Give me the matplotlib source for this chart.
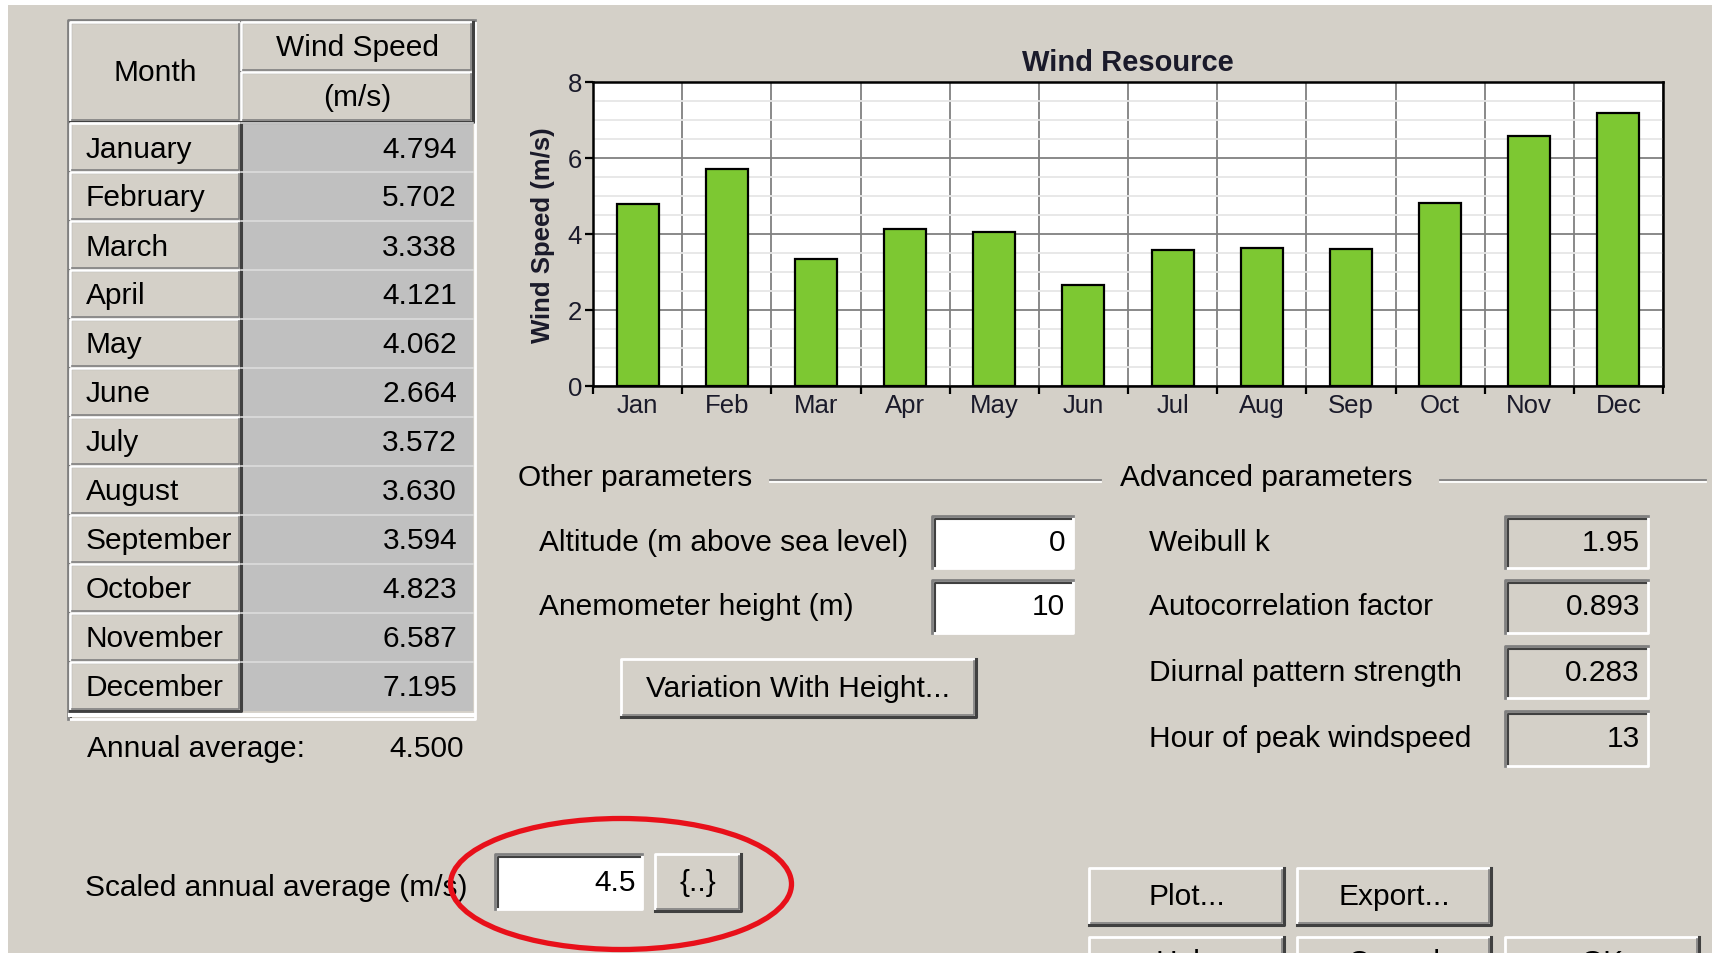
import matplotlib
matplotlib.use("Agg")
import matplotlib.pyplot as plt
from matplotlib.patches import Rectangle, Ellipse
import numpy as np

# data
months = ["January", "February", "March", "April", "May", "June",
          "July", "August", "September", "October", "November", "December"]
month_short = ["Jan", "Feb", "Mar", "Apr", "May", "Jun",
               "Jul", "Aug", "Sep", "Oct", "Nov", "Dec"]
wind_speed = [4.794, 5.702, 3.338, 4.121, 4.062, 2.664,
              3.572, 3.630, 3.594, 4.823, 6.587, 7.195]
annual_avg = 4.500
scaled_avg = "4.5"
other_labels = ["Altitude (m above sea level)", "Anemometer height (m)"]
other_values = ["0", "10"]
adv_labels = ["Weibull k", "Autocorrelation factor",
              "Diurnal pattern strength", "Hour of peak windspeed"]
adv_values = ["1.95", "0.893", "0.283", "13"]

W, H = 1713, 954
BG = "#d4d0c8"
FS = 21.5
plt.rcParams["font.family"] = ["Liberation Sans", "DejaVu Sans"]

fig = plt.figure(figsize=(W / 100, H / 100), dpi=100)
fig.patch.set_facecolor("white")
bg = fig.add_axes([0, 0, 1, 1])
bg.set_xlim(0, W)
bg.set_ylim(H, 0)
bg.axis("off")
bg.add_patch(Rectangle((8, 6), W - 9, H, fc=BG, ec="none"))


def raised(x0, y0, x1, y1, fc=BG):
    bg.add_patch(Rectangle((x0, y0), x1 - x0, y1 - y0, fc=fc, ec="none"))
    bg.plot([x0, x0, x1], [y1, y0, y0], color="white", lw=2)
    bg.plot([x0, x1, x1], [y1, y1, y0], color="#404040", lw=2.2)
    bg.plot([x0 + 2, x1 - 2, x1 - 2], [y1 - 2.5, y1 - 2.5, y0 + 2], color="#808080", lw=1.2)


def sunken(x0, y0, x1, y1, fc="white"):
    bg.add_patch(Rectangle((x0, y0), x1 - x0, y1 - y0, fc=fc, ec="none"))
    bg.plot([x0, x1, x1], [y1, y1, y0], color="white", lw=2)
    bg.plot([x0, x0, x1], [y1, y0, y0], color="#808080", lw=2)
    bg.plot([x0 + 2.5, x0 + 2.5, x1 - 2], [y1 - 2, y0 + 2.5, y0 + 2.5], color="#404040", lw=1.5)


# ---- month table
tx0, ty0, tx1, ty1 = 70, 23, 473, 720
col = 241
row_top, row_h = 124, 49
sunken(tx0 - 2, ty0 - 2, tx1 + 2, ty1, fc=BG)
raised(tx0, ty0, col, 123)
raised(col, ty0, tx1, 73)
raised(col, 73, tx1, 123)
bg.text((tx0 + col) / 2, 73, "Month", fontsize=FS, ha="center", va="center")
bg.text((col + tx1) / 2, 48, "Wind Speed", fontsize=FS, ha="center", va="center")
bg.text((col + tx1) / 2, 98, "(m/s)", fontsize=FS, ha="center", va="center")
for i, (m, v) in enumerate(zip(months, wind_speed)):
    top = row_top + i * row_h
    raised(tx0, top, col, top + row_h)
    bg.add_patch(Rectangle((col, top), tx1 - col, row_h, fc="#c0c0c0", ec="none"))
    bg.plot([col, tx1], [top, top], color="#dcdcdc", lw=1.2)
    bg.text(tx0 + 16, top + row_h / 2 + 1, m, fontsize=FS, ha="left", va="center")
    bg.text(tx1 - 16, top + row_h / 2 + 1, f"{v:.3f}", fontsize=FS, ha="right", va="center")
bg.plot([tx0, tx1], [row_top + 12 * row_h + 4, row_top + 12 * row_h + 4], color="white", lw=3)

bg.text(87, 749, "Annual average:", fontsize=FS, ha="left", va="center")
bg.text(464, 749, f"{annual_avg:.3f}", fontsize=FS, ha="right", va="center")

# ---- chart
ax = fig.add_axes([593 / W, 1 - 387 / H, (1663 - 593) / W, (387 - 83) / H])
ax.set_facecolor("white")
x = np.arange(len(month_short))
ax.bar(x, wind_speed, width=0.47, color="#7dc832", edgecolor="black", lw=1.6, zorder=3)
ax.set_xlim(-0.5, 11.5)
ax.set_ylim(0, 8)
ax.set_xticks(np.arange(-0.5, 12, 1))
ax.set_xticklabels([])
ax.set_xticks(x, minor=True)
ax.set_xticklabels(month_short, minor=True)
ax.set_yticks([0, 2, 4, 6, 8])
ax.set_yticks(np.arange(0, 8.01, 0.5), minor=True)
ax.tick_params(axis="x", which="major", length=6, width=1.6, direction="out")
ax.tick_params(axis="x", which="minor", length=0, pad=5, labelsize=18.5, labelcolor="#1a1a2a")
ax.tick_params(axis="y", which="major", length=6, width=1.6, pad=2, labelsize=18.5, labelcolor="#1a1a2a")
ax.tick_params(axis="y", which="minor", length=0)
ax.grid(axis="x", which="major", color="#808080", lw=1.3)
ax.grid(axis="y", which="major", color="#808080", lw=1.3)
ax.grid(axis="y", which="minor", color="#e6e6e6", lw=1.3)
ax.set_axisbelow(True)
for s in ax.spines.values():
    s.set_linewidth(1.8)
    s.set_color("black")

bg.text(1128, 63, "Wind Resource", fontsize=21, fontweight="bold", ha="center", va="center", color="#1a1a2a")
bg.text(543, 235, "Wind Speed (m/s)", fontsize=18.5, fontweight="bold", rotation=90,
        ha="center", va="center", color="#1a1a2a")

# ---- other parameters
bg.text(518, 478, "Other parameters", fontsize=FS, ha="left", va="center")
bg.plot([770, 1101], [481, 481], color="#808080", lw=1.3)
bg.plot([770, 1101], [483, 483], color="white", lw=1.3)
other_boxes = [(517, 569), (581, 634)]
for lab, val, (b0, b1) in zip(other_labels, other_values, other_boxes):
    bg.text(539, (b0 + b1) / 2, lab, fontsize=FS, ha="left", va="center")
    sunken(932, b0, 1073, b1, fc="white")
    bg.text(1065, (b0 + b1) / 2, val, fontsize=FS, ha="right", va="center")

raised(621, 660, 976, 718)
bg.text(798, 689, "Variation With Height...", fontsize=FS, ha="center", va="center")

# ---- advanced parameters
bg.text(1120, 478, "Advanced parameters", fontsize=FS, ha="left", va="center")
bg.plot([1440, 1706], [481, 481], color="#808080", lw=1.3)
bg.plot([1440, 1706], [483, 483], color="white", lw=1.3)
adv_boxes = [(517, 569), (581, 634), (647, 699), (712, 767)]
for lab, val, (b0, b1) in zip(adv_labels, adv_values, adv_boxes):
    bg.text(1149, (b0 + b1) / 2, lab, fontsize=FS, ha="left", va="center")
    sunken(1505, b0, 1648, b1, fc=BG)
    bg.text(1640, (b0 + b1) / 2, val, fontsize=FS, ha="right", va="center")

# ---- scaled annual average
bg.text(85, 888, "Scaled annual average (m/s)", fontsize=FS, ha="left", va="center")
sunken(495, 855, 642, 910, fc="white")
bg.text(636, 883, scaled_avg, fontsize=FS, ha="right", va="center")
raised(655, 855, 741, 912)
bg.text(698, 883, "{..}", fontsize=FS, ha="center", va="center")
bg.add_patch(Ellipse((621, 885), 341, 131, fill=False, ec="#e8101a", lw=3.8, zorder=10))

# ---- buttons (bottom row is cut off by the screenshot edge)
for (b0, b1), lab in zip([(1089, 1284), (1297, 1491)], ["Plot...", "Export..."]):
    raised(b0, 869, b1, 926)
    bg.text((b0 + b1) / 2, 897, lab, fontsize=FS, ha="center", va="center")
for (b0, b1), lab in zip([(1089, 1284), (1297, 1491), (1505, 1699)], ["Help", "Cancel", "OK"]):
    raised(b0, 938, b1, 1000)
    bg.text((b0 + b1) / 2, 963, lab, fontsize=FS, ha="center", va="center")

fig.savefig("out.png", dpi=100, facecolor=fig.get_facecolor())
